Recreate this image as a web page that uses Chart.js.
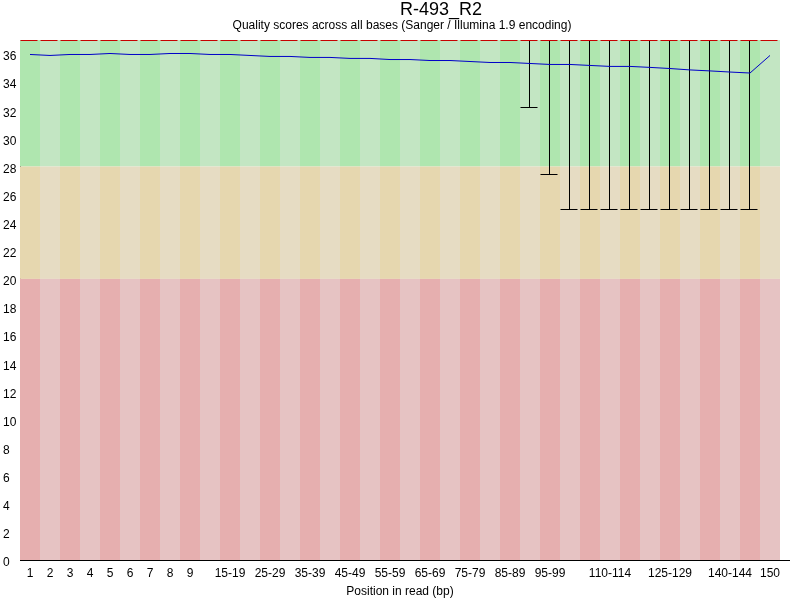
<!DOCTYPE html>
<html>
<head>
<meta charset="utf-8">
<script src="https://cdn.jsdelivr.net/npm/chart.js@4.4.1/dist/chart.umd.min.js"></script>
<style>
  body { margin: 0; background: #fff; }
</style>
</head>
<body>
<canvas id="myChart" width="800" height="600"></canvas>
<script>
var chartTitle = "R-493_R2";
var chartSubtitle = "Quality scores across all bases (Sanger / Illumina 1.9 encoding)";

var categories = ["1", "2", "3", "4", "5", "6", "7", "8", "9",
  "10-14", "15-19", "20-24", "25-29", "30-34", "35-39", "40-44", "45-49",
  "50-54", "55-59", "60-64", "65-69", "70-74", "75-79", "80-84", "85-89",
  "90-94", "95-99", "100-104", "105-109", "110-114", "115-119", "120-124",
  "125-129", "130-134", "135-139", "140-144", "145-149", "150"];

// labels that fit on the x axis
var shownLabels = ["1", "2", "3", "4", "5", "6", "7", "8", "9", "15-19",
  "25-29", "35-39", "45-49", "55-59", "65-69", "75-79", "85-89", "95-99",
  "110-114", "125-129", "140-144", "150"];

var yTicks = [0, 2, 4, 6, 8, 10, 12, 14, 16, 18, 20, 22, 24, 26, 28, 30, 32, 34, 36];

var meanValues = [35.97, 35.90, 35.97, 35.97, 36.04, 35.97, 35.97, 36.04, 36.04, 35.97,
  35.97, 35.90, 35.83, 35.83, 35.76, 35.76, 35.69, 35.69, 35.61, 35.61,
  35.54, 35.54, 35.47, 35.40, 35.40, 35.33, 35.26, 35.26, 35.19, 35.12,
  35.12, 35.05, 34.97, 34.87, 34.80, 34.72, 34.65, 35.90];

var medianValues = [37, 37, 37, 37, 37, 37, 37, 37, 37, 37,
  37, 37, 37, 37, 37, 37, 37, 37, 37, 37,
  37, 37, 37, 37, 37, 37, 37, 37, 37, 37,
  37, 37, 37, 37, 37, 37, 37, 37];

// 10th and 90th percentiles (whiskers)
var lowerValues = [37, 37, 37, 37, 37, 37, 37, 37, 37, 37,
  37, 37, 37, 37, 37, 37, 37, 37, 37, 37,
  37, 37, 37, 37, 37, 32.2, 27.5, 25, 25, 25,
  25, 25, 25, 25, 25, 25, 25, 37];
var upperValues = [37, 37, 37, 37, 37, 37, 37, 37, 37, 37,
  37, 37, 37, 37, 37, 37, 37, 37, 37, 37,
  37, 37, 37, 37, 37, 37, 37, 37, 37, 37,
  37, 37, 37, 37, 37, 37, 37, 37];

var FONT = "Liberation Sans, Arial, sans-serif";

var qcPlugin = {
  id: "qc",
  beforeDatasetsDraw: function (chart) {
    var ctx = chart.ctx, xs = chart.scales.x, ys = chart.scales.y;
    var w = xs.getPixelForValue(1) - xs.getPixelForValue(0);
    var zones = [
      { lo: 28, hi: ys.max, c: ["rgb(175,230,175)", "rgb(195,230,195)"] },
      { lo: 20, hi: 28, c: ["rgb(230,215,175)", "rgb(230,220,195)"] },
      { lo: 0, hi: 20, c: ["rgb(230,175,175)", "rgb(230,195,195)"] }
    ];
    ctx.save();
    categories.forEach(function (c, i) {
      var left = xs.getPixelForValue(i) - w / 2;
      zones.forEach(function (z) {
        var top = ys.getPixelForValue(z.hi), bot = ys.getPixelForValue(z.lo);
        ctx.fillStyle = z.c[i % 2];
        ctx.fillRect(left, top, w, bot - top);
      });
    });

    ctx.lineWidth = 1;
    categories.forEach(function (c, i) {
      var x = Math.round(xs.getPixelForValue(i)) - 0.5;
      var l = x - w * 0.45, r = x + w * 0.4;
      if (lowerValues[i] < upperValues[i]) {
        var yl = Math.round(ys.getPixelForValue(lowerValues[i])) + 0.5;
        var yu = Math.round(ys.getPixelForValue(upperValues[i])) + 0.5;
        ctx.strokeStyle = "#000";
        ctx.beginPath();
        ctx.moveTo(x, yu); ctx.lineTo(x, yl);
        ctx.moveTo(l, yl); ctx.lineTo(r, yl);
        ctx.stroke();
      }
      var ym = Math.round(ys.getPixelForValue(medianValues[i])) + 0.5;
      ctx.strokeStyle = "rgb(200,0,0)";
      ctx.beginPath();
      ctx.moveTo(l, ym); ctx.lineTo(r, ym);
      ctx.stroke();
    });
    ctx.restore();
  },
  afterDraw: function (chart) {
    var ctx = chart.ctx, a = chart.chartArea;
    ctx.save();
    ctx.strokeStyle = "#000";
    ctx.lineWidth = 1;
    ctx.beginPath();
    ctx.moveTo(a.left, a.bottom + 0.5);
    ctx.lineTo(a.right + 10, a.bottom + 0.5);
    ctx.stroke();
    ctx.fillStyle = "#000";
    ctx.textBaseline = "alphabetic";
    ctx.font = "18px " + FONT;
    ctx.textAlign = "left";
    ctx.fillText(chartTitle, (a.left + a.right) / 2, 15);
    ctx.font = "12px " + FONT;
    ctx.textAlign = "center";
    ctx.fillText(chartSubtitle, (a.left + a.right) / 2 + 2, 29);
    ctx.restore();
  }
};

new Chart("myChart", {
  type: "line",
  data: {
    labels: categories,
    datasets: [
      {
        data: meanValues,
        borderColor: "rgb(0,0,200)",
        borderWidth: 1,
        pointRadius: 0,
        tension: 0,
        fill: false
      }
    ]
  },
  options: {
    responsive: false,
    animation: false,
    layout: { padding: { top: 40, left: 3, right: 20, bottom: 0 } },
    plugins: {
      legend: { display: false },
      tooltip: { enabled: false }
    },
    scales: {
      x: {
        type: "category",
        offset: true,
        grid: { display: false, drawTicks: false },
        border: { display: false },
        ticks: {
          autoSkip: false,
          maxRotation: 0,
          padding: 6,
          color: "#000",
          font: { family: FONT, size: 12 },
          callback: function (v, i) {
            var c = categories[i];
            return shownLabels.indexOf(c) >= 0 ? c : "";
          }
        },
        title: {
          display: true,
          text: "Position in read (bp)",
          color: "#000",
          font: { family: FONT, size: 12 },
          padding: { top: 6, bottom: 1 }
        },
        afterFit: function (s) { s.height = 40; }
      },
      y: {
        min: 0,
        max: 37,
        grid: { display: false, drawTicks: false },
        border: { display: true, color: "#000", width: 1 },
        afterBuildTicks: function (s) {
          s.ticks = yTicks.map(function (v) { return { value: v }; });
        },
        ticks: {
          crossAlign: "far",
          labelOffset: 3,
          padding: 0,
          color: "#000",
          font: { family: FONT, size: 12 }
        },
        afterFit: function (s) { s.width = 17; }
      }
    }
  },
  plugins: [qcPlugin]
});
</script>
</body>
</html>
